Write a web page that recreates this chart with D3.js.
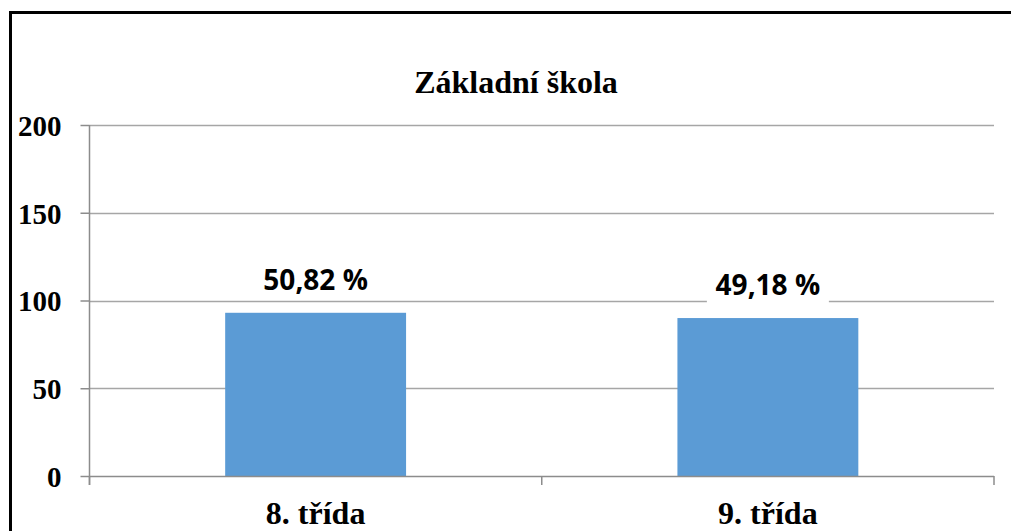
<!DOCTYPE html>
<html><head><meta charset="utf-8">
<script src="https://cdn.jsdelivr.net/npm/d3@7"></script>
<style>html,body{margin:0;padding:0;background:#fff;overflow:hidden;}svg{display:block;}</style>
</head><body>
<script>
const title = "Základní škola";
const categories = ["8. třída", "9. třída"];
const values = [93, 90];
const labels = ["50,82 %", "49,18 %"];
const yTicks = [0, 50, 100, 150, 200];

(function () {
const W = 1011, H = 531;
const svg = d3.select("body").append("svg").attr("width", W).attr("height", H);
svg.append("rect").attr("width", W).attr("height", H).attr("fill", "#fff");

// outer border (left and top edges only are visible)
svg.append("path").attr("d", `M10.5,${H}V12.5H${W}`)
  .attr("fill", "none").attr("stroke", "#000").attr("stroke-width", 3);

const pl = 89.5, pr = 994, pt = 125, pb = 476;
const y = d3.scaleLinear().domain([0, 200]).range([pb, pt]);
const x = d3.scaleBand().domain(categories).range([pl, pr]).paddingInner(0.6).paddingOuter(0.3);

// gridlines
svg.append("g").selectAll("line").data(yTicks.filter(d => d > 0)).join("line")
  .attr("x1", pl).attr("x2", pr)
  .attr("y1", d => Math.round(y(d)) + 0.5).attr("y2", d => Math.round(y(d)) + 0.5)
  .attr("stroke", "#a6a6a6").attr("stroke-width", 1.5);

// y axis
const yAxis = d3.axisLeft(y).tickValues(yTicks).tickSize(9).tickPadding(0);
const gy = svg.append("g").attr("transform", `translate(${pl},0)`).call(yAxis);
gy.select(".domain").remove();
gy.selectAll(".tick line").attr("stroke", "#8c8c8c").attr("stroke-width", 1.5);
gy.selectAll(".tick text").attr("x", -28).attr("dy", "0.36em")
  .attr("font-family", "Liberation Serif, Times New Roman, serif").attr("font-weight", "bold")
  .attr("font-size", 29).attr("fill", "#000");
svg.append("line").attr("x1", pl).attr("x2", pl).attr("y1", pt).attr("y2", pb + 9)
  .attr("stroke", "#8c8c8c").attr("stroke-width", 1.5);

// bars
svg.append("g").selectAll("rect").data(values).join("rect")
  .attr("x", (d, i) => x(categories[i])).attr("width", x.bandwidth())
  .attr("y", d => y(d)).attr("height", d => y(0) - y(d))
  .attr("fill", "#5b9bd5");

// x axis
svg.append("line").attr("x1", pl).attr("x2", pr).attr("y1", pb + 0.5).attr("y2", pb + 0.5)
  .attr("stroke", "#8c8c8c").attr("stroke-width", 1.5);
const bounds = [pl, (pl + pr) / 2, pr];
svg.append("g").selectAll("line").data(bounds).join("line")
  .attr("x1", d => d).attr("x2", d => d).attr("y1", pb).attr("y2", pb + 9)
  .attr("stroke", "#8c8c8c").attr("stroke-width", 1.5);
svg.append("g").selectAll("text").data(categories).join("text")
  .attr("x", d => x(d) + x.bandwidth() / 2).attr("y", 524)
  .attr("text-anchor", "middle")
  .attr("font-family", "Liberation Serif, Times New Roman, serif").attr("font-weight", "bold")
  .attr("font-size", 32).attr("fill", "#000").text(d => d);

// data labels with white background
const lg = svg.append("g").selectAll("g").data(values).join("g")
  .attr("transform", (d, i) => `translate(${x(categories[i]) + x.bandwidth() / 2},${y(d) - 23})`);
lg.append("rect").attr("x", -61).attr("width", 122).attr("y", -28).attr("height", 36).attr("fill", "#fff");
lg.append("text").attr("text-anchor", "middle")
  .attr("font-family", "Open Sans, Liberation Sans, Arial, sans-serif").attr("font-weight", "bold")
  .attr("font-size", 28).attr("fill", "#000").text((d, i) => labels[i]);

// title
svg.append("text").attr("x", 516).attr("y", 93).attr("text-anchor", "middle")
  .attr("font-family", "Liberation Serif, Times New Roman, serif").attr("font-weight", "bold")
  .attr("font-size", 32).attr("fill", "#000").text(title);
})();
</script>
</body></html>
